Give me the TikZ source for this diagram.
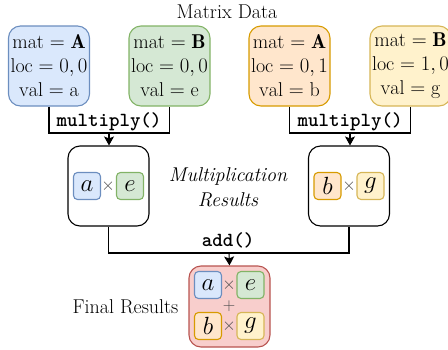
\documentclass[tikz,border=0pt]{standalone}
\usepackage{fontspec}
\usetikzlibrary{arrows.meta}

\definecolor{blueFill}{HTML}{DAE8FC}\definecolor{blueLine}{HTML}{6C8EBF}
\definecolor{greenFill}{HTML}{D5E8D4}\definecolor{greenLine}{HTML}{82B366}
\definecolor{orangeFill}{HTML}{FFE6CC}\definecolor{orangeLine}{HTML}{D79B00}
\definecolor{yellowFill}{HTML}{FFF2CC}\definecolor{yellowLine}{HTML}{D6B656}
\definecolor{redFill}{HTML}{F8CECC}\definecolor{redLine}{HTML}{B85450}

\tikzset{
  bigfont/.style={font=\fontsize{20}{24}\selectfont},
  databox/.style={bigfont, draw, line width=1.1pt, rounded corners=12pt,
    minimum width=81pt, minimum height=80pt, align=center, inner sep=0pt},
  resbox/.style={draw=black, line width=1.1pt, rounded corners=12pt,
    minimum width=81pt, minimum height=80pt, inner sep=0pt},
  cell/.style={font=\fontsize{23}{24}\selectfont, draw, line width=1.1pt, rounded corners=4pt,
    minimum width=27pt, minimum height=27pt, inner sep=0pt},
  op/.style={font=\fontsize{16}{16}\selectfont, text=black!70, inner sep=0pt},
  wire/.style={line width=1.1pt, draw=black},
  arrowwire/.style={wire, -{Stealth[length=9pt,width=10pt,inset=2pt]}},
  fnlabel/.style={font=\fontsize{20}{24}\selectfont\ttfamily\bfseries},
  plainlabel/.style={bigfont, align=center},
}

\begin{document}
\begin{tikzpicture}[x=1pt, y=-1pt]
  \useasboundingbox (0,0) rectangle (448,349);

  % heading
  \node[plainlabel] (title) at (227,12) {Matrix Data};

  % matrix entries
  \node[databox, fill=blueFill, draw=blueLine] (A1) at (49,66)
    {$\mathrm{mat}=\mathbf{A}$\\ $\mathrm{loc}=0,0$\\ $\mathrm{val}=\mathrm{a}$};
  \node[databox, fill=greenFill, draw=greenLine] (B1) at (169.5,66)
    {$\mathrm{mat}=\mathbf{B}$\\ $\mathrm{loc}=0,0$\\ $\mathrm{val}=\mathrm{e}$};
  \node[databox, fill=orangeFill, draw=orangeLine] (A2) at (289.5,66)
    {$\mathrm{mat}=\mathbf{A}$\\ $\mathrm{loc}=0,1$\\ $\mathrm{val}=\mathrm{b}$};
  \node[databox, fill=yellowFill, draw=yellowLine] (B2) at (410.5,66)
    {$\mathrm{mat}=\mathbf{B}$\\ $\mathrm{loc}=1,0$\\ $\mathrm{val}=\mathrm{g}$};

  % products
  \node[resbox] (R1) at (108.5,186) {};
  \node[cell, fill=blueFill, draw=blueLine] (ra) at (87,186) {$a$};
  \node[op] (rx1) at (108,186) {$\times$};
  \node[cell, fill=greenFill, draw=greenLine] (re) at (130,186) {$e$};

  \node[resbox] (R2) at (349,186) {};
  \node[cell, fill=orangeFill, draw=orangeLine] (rb) at (327.5,186) {$b$};
  \node[op] (rx2) at (349,186) {$\times$};
  \node[cell, fill=yellowFill, draw=yellowLine] (rg) at (370.5,186) {$g$};

  \node[plainlabel, font=\fontsize{20}{25}\selectfont\itshape] (mres) at (228,187.5)
    {Multiplication\\Results};

  % sum of products
  \node[resbox, fill=redFill, draw=redLine, minimum height=81pt] (F) at (229.5,306.5) {};
  \node[cell, fill=blueFill, draw=blueLine] (fa) at (208,285) {$a$};
  \node[cell, fill=greenFill, draw=greenLine] (fe) at (250.5,285) {$e$};
  \node[cell, fill=orangeFill, draw=orangeLine] (fb) at (208,326) {$b$};
  \node[cell, fill=yellowFill, draw=yellowLine] (fg) at (250.5,326) {$g$};
  \node[op] (fx1) at (229,285) {$\times$};
  \node[op] (fplus) at (229,306) {$+$};
  \node[op] (fx2) at (229,326) {$\times$};

  \node[plainlabel] (flabel) at (125.5,307) {Final Results};

  % connectors
  \coordinate (j1) at (109,133);
  \coordinate (j2) at (350,133);
  \coordinate (j3) at (229,253);

  \draw[wire] (A1.south) |- (j1) -| (B1.south);
  \draw[arrowwire] (j1) -- (j1 |- R1.north);
  \node[fnlabel, anchor=base] (mul1) at (109,126) {multiply()};

  \draw[wire] (A2.south) |- (j2) -| (B2.south);
  \draw[arrowwire] (j2) -- (j2 |- R2.north);
  \node[fnlabel, anchor=base] (mul2) at (350,126) {multiply()};

  \draw[wire] (R1.south) |- (j3) -| (R2.south);
  \draw[arrowwire] (j3) -- (F.north);
  \node[fnlabel, anchor=base] (addl) at (228,246) {add()};
\end{tikzpicture}
\end{document}
